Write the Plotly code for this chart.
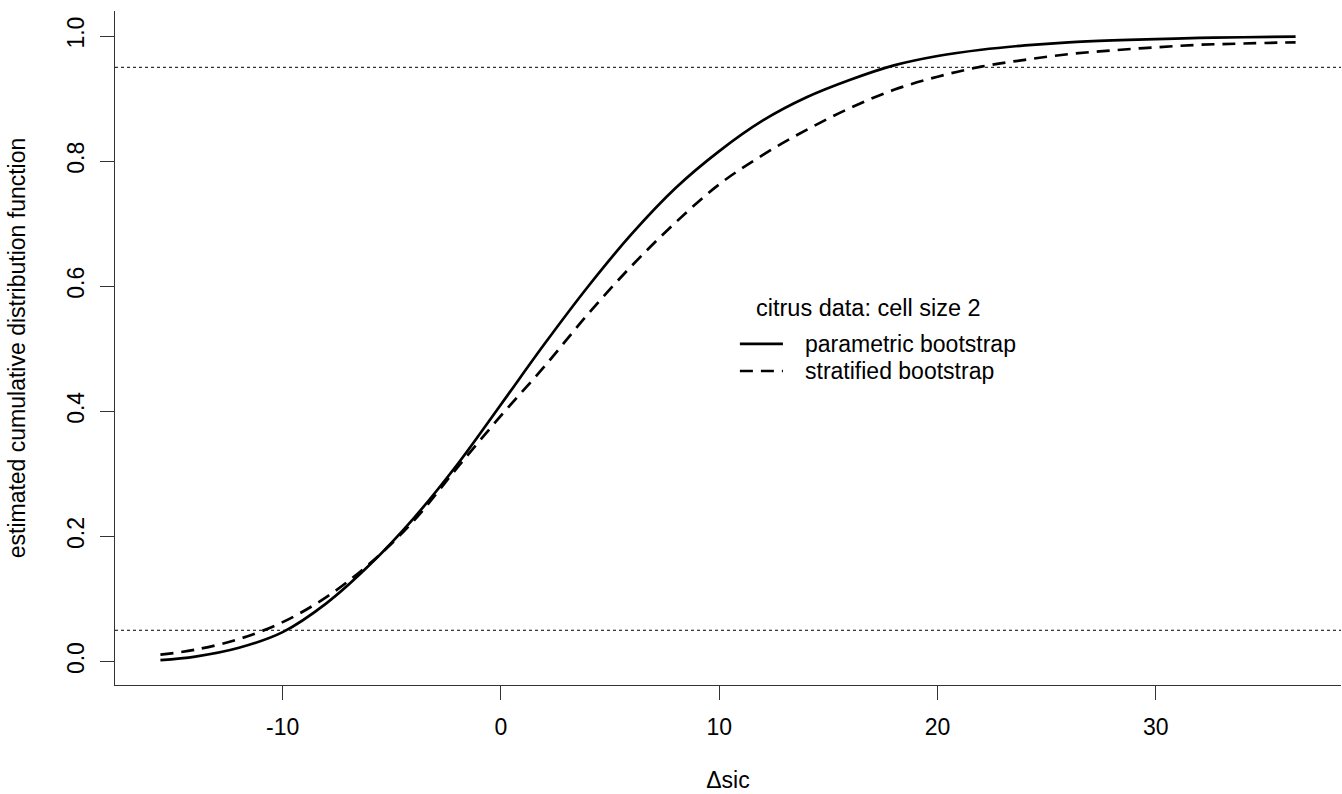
import plotly.graph_objects as go

# Δsic grid values
delta_sic = [-15.6, -14, -12, -10, -8, -6, -4, -2, 0, 2, 4, 6, 8, 10, 12, 14,
             16, 18, 20, 22, 24, 26, 28, 30, 32, 34, 36.4]

# estimated CDF, parametric bootstrap (solid)
parametric_cdf = [0.0024, 0.008, 0.022, 0.047, 0.093, 0.155, 0.229, 0.315, 0.411,
                  0.508, 0.600, 0.684, 0.757, 0.816, 0.865, 0.902, 0.930, 0.953,
                  0.968, 0.978, 0.985, 0.990, 0.993, 0.995, 0.997, 0.998, 0.999]

# estimated CDF, stratified bootstrap (dashed)
stratified_cdf = [0.011, 0.019, 0.036, 0.063, 0.103, 0.157, 0.225, 0.310, 0.393,
                  0.472, 0.556, 0.633, 0.702, 0.763, 0.810, 0.850, 0.885, 0.914,
                  0.935, 0.951, 0.962, 0.971, 0.977, 0.982, 0.986, 0.988, 0.990]

series_names = ["parametric bootstrap", "stratified bootstrap"]
legend_title = "citrus data: cell size 2"
reference_levels = [0.05, 0.95]
x_ticks = [-10, 0, 10, 20, 30]
x_tick_labels = ["-10", "0", "10", "20", "30"]
y_ticks = [0.0, 0.2, 0.4, 0.6, 0.8, 1.0]

FONT = "Liberation Sans, Arial, sans-serif"
FS = 23
DASH = "13px,8px"

fig = go.Figure()
fig.add_trace(go.Scatter(x=delta_sic, y=parametric_cdf, mode="lines",
                         name=series_names[0], showlegend=False,
                         line=dict(color="black", width=2.7, shape="spline", smoothing=1.0)))
fig.add_trace(go.Scatter(x=delta_sic, y=stratified_cdf, mode="lines",
                         name=series_names[1], showlegend=False,
                         line=dict(color="black", width=2.7, dash=DASH,
                                   shape="spline", smoothing=1.0)))

for lvl in reference_levels:
    fig.add_hline(y=lvl, line=dict(color="black", width=1, dash="dot"))

# legend (R-style, no box), placed in paper coordinates
key_x0, key_x1, text_x = 0.5097, 0.5448, 0.5611
row_y = [0.506, 0.4659]
dashes = ["solid", DASH]
for name, yy, dsh in zip(series_names, row_y, dashes):
    fig.add_shape(type="line", xref="paper", yref="paper",
                  x0=key_x0, x1=key_x1, y0=yy, y1=yy,
                  line=dict(color="black", width=2.7, dash=dsh))
    fig.add_annotation(text=name, xref="paper", yref="paper", x=text_x, y=yy,
                       xanchor="left", yanchor="middle", showarrow=False,
                       font=dict(size=FS, family=FONT, color="black"))
fig.add_annotation(text=legend_title, xref="paper", yref="paper", x=0.6148, y=0.5593,
                   xanchor="center", yanchor="middle", showarrow=False,
                   font=dict(size=FS + 0.5, family=FONT, color="black"))

fig.update_layout(
    width=1342, height=794,
    margin=dict(l=115, r=1, t=11, b=109),
    paper_bgcolor="white", plot_bgcolor="white",
    font=dict(family=FONT, size=FS, color="black"),
    showlegend=False,
)

fig.update_xaxes(
    range=[-17.68, 38.48], tickmode="array", tickvals=x_ticks, ticktext=x_tick_labels,
    ticks="outside", ticklen=14, tickwidth=1, tickcolor="#333",
    showline=True, linecolor="#333", linewidth=1.3, mirror=False,
    showgrid=False, zeroline=False, ticklabelstandoff=7,
    tickfont=dict(size=FS),
    title=dict(text="Δsic", standoff=33, font=dict(size=FS)),
)
fig.update_yaxes(
    range=[-0.0375, 1.04], tickmode="array", tickvals=y_ticks,
    tickformat=".1f", tickangle=-90,
    ticks="outside", ticklen=14, tickwidth=1, tickcolor="#333",
    showline=True, linecolor="#333", linewidth=1.3, mirror=False,
    showgrid=False, zeroline=False, ticklabelstandoff=7,
    tickfont=dict(size=FS),
    title=dict(text="estimated cumulative distribution function", standoff=30,
               font=dict(size=FS)),
)

fig.write_html("out.html")
